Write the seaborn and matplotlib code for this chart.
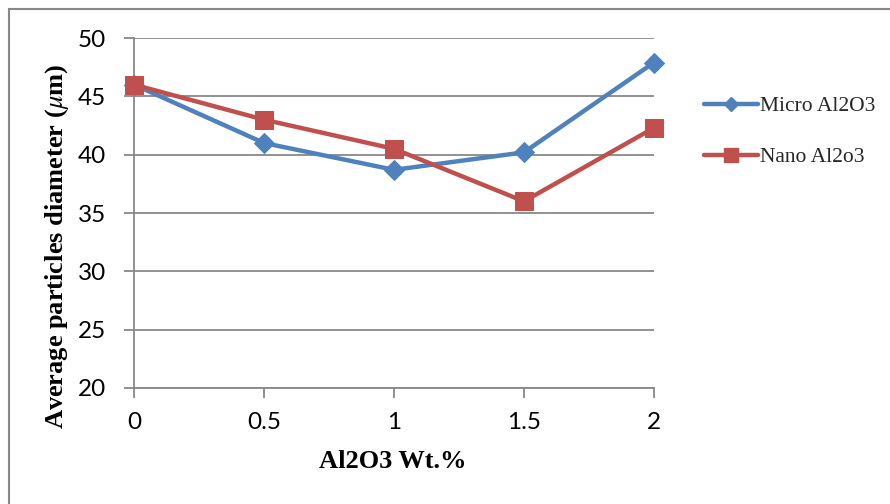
import matplotlib
matplotlib.use("Agg")
import matplotlib.pyplot as plt
import seaborn as sns
import pandas as pd
from matplotlib.lines import Line2D
from matplotlib.patches import Rectangle

# Alumina content (wt.%) and average particle diameter (um)
wt_percent = [0, 0.5, 1, 1.5, 2]
micro_al2o3 = [46.0, 41.0, 38.7, 40.2, 47.9]
nano_al2o3 = [46.0, 43.0, 40.5, 36.0, 42.3]
series_names = ["Micro Al2O3", "Nano Al2o3"]
y_ticks = [20, 25, 30, 35, 40, 45, 50]
x_ticks = [0, 0.5, 1, 1.5, 2]
x_tick_labels = ["0", "0.5", "1", "1.5", "2"]

blue = "#4F81BD"
red = "#C0504D"
grey = "#888888"

sns.set_theme(style="white")
plt.rcParams["font.family"] = ["DejaVu Sans"]
plt.rcParams["mathtext.fontset"] = "stix"

fig = plt.figure(figsize=(8.9, 5.04), dpi=100)
ax = fig.add_axes([134 / 890, 1 - 388 / 504, 520 / 890, 350 / 504])

df_micro = pd.DataFrame({"x": wt_percent, "y": micro_al2o3})
df_nano = pd.DataFrame({"x": wt_percent, "y": nano_al2o3})

sns.lineplot(data=df_micro, x="x", y="y", ax=ax, color=blue, linewidth=3.2,
             marker="D", markersize=10, markeredgecolor=blue, zorder=3, clip_on=False)
sns.lineplot(data=df_nano, x="x", y="y", ax=ax, color=red, linewidth=3.2,
             marker="s", markersize=13, markeredgecolor=red, zorder=4, clip_on=False)

ax.set_xlim(0, 2)
ax.set_ylim(20, 50)
ax.set_yticks(y_ticks)
ax.set_xticks(x_ticks)
ax.set_xticklabels(x_tick_labels)

for lbl in ax.get_xticklabels() + ax.get_yticklabels():
    lbl.set_fontfamily("Lato")
    lbl.set_fontsize(17.5)
    lbl.set_color("black")

ax.yaxis.grid(True, color=grey, linewidth=1.3)
ax.xaxis.grid(False)
for side in ["top", "right"]:
    ax.spines[side].set_visible(False)
for side in ["left", "bottom"]:
    ax.spines[side].set_color(grey)
    ax.spines[side].set_linewidth(1.3)
ax.tick_params(axis="both", which="major", direction="out", length=7,
               width=1.3, color=grey, left=True, bottom=True)
ax.tick_params(axis="x", pad=10)
ax.tick_params(axis="y", pad=13)

ax.set_xlabel("Al2O3 Wt.%", family="Liberation Serif", fontweight="bold",
              fontsize=19, color="black")
ax.set_ylabel(r"Average particles diameter ($\mu$m)", family="Liberation Serif",
              fontweight="bold", fontsize=19, color="black")
ax.xaxis.set_label_coords(0.498, -0.178)
ax.yaxis.set_label_coords(-0.122, 0.406)

handles = [
    Line2D([], [], color=blue, linewidth=3.2, marker="D", markersize=7),
    Line2D([], [], color=red, linewidth=3.2, marker="s", markersize=9.5),
]
fig.legend(handles, series_names, loc="upper left", bbox_to_anchor=(704 / 890, 1 - 96 / 504),
           frameon=False, prop=dict(family="Liberation Serif", size=15.5),
           handlelength=2.5, handletextpad=0.12, labelspacing=1.45, borderaxespad=0,
           borderpad=0)

# Chart frame
fig.patches.append(Rectangle((9 / 890, -0.1), 1.0, 1 - 9 / 504 + 0.1, transform=fig.transFigure,
                             fill=False, edgecolor=grey, linewidth=1.5, zorder=0))

fig.savefig("out.png", dpi=100)
